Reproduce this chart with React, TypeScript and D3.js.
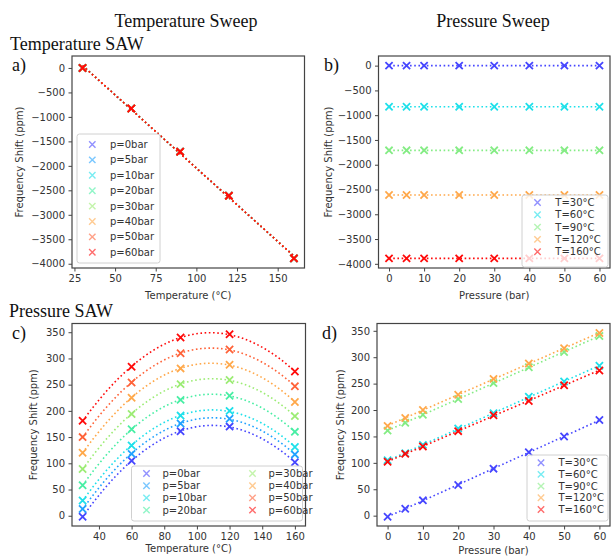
import React, {useEffect, useRef} from 'react';
import * as d3 from 'd3';

const temperatures = [30, 60, 90, 120, 160];
const pressures = [0, 5, 10, 20, 30, 40, 50, 60];

const pressureNames = ["p=0bar", "p=5bar", "p=10bar", "p=20bar", "p=30bar", "p=40bar", "p=50bar", "p=60bar"];
const tempNames = ["T=30°C", "T=60°C", "T=90°C", "T=120°C", "T=160°C"];

const pressureColors = ["#4646ff", "#22a2ff", "#1ee0ea", "#48eea4", "#9cec74", "#ffa84a", "#ff6238", "#ff0a0a"];
const tempColors = ["#4646ff", "#1ee0ea", "#84ec84", "#ffa84a", "#ff0a0a"];

// temperature sweep (ppm), same for every pressure
const tempSweepShift = [0, -830, -1710, -2610, -3890];

// pressure sweep (ppm) vs pressure, one array per temperature
const shiftT30 = [-2, 13, 29, 58, 89, 120, 150, 181];
const shiftT60 = [105, 118, 134, 165, 194, 225, 254, 284];
const shiftT90 = [161, 176, 191, 221, 251, 281, 310, 340];
const shiftT120 = [170, 185, 200, 229, 259, 288, 317, 346];
const shiftT160 = [102, 117, 131, 160, 190, 217, 247, 275];
const pressureSweep = [shiftT30, shiftT60, shiftT90, shiftT120, shiftT160];

const tempTicksA = [25, 50, 75, 100, 125, 150];
const tempTicksC = [40, 60, 80, 100, 120, 140, 160];
const pressureTicks = [0, 10, 20, 30, 40, 50, 60];
const bigShiftTicks = [0, -500, -1000, -1500, -2000, -2500, -3000, -3500, -4000];
const smallShiftTicks = [0, 50, 100, 150, 200, 250, 300, 350];

const width = 611;
const height = 556;
const tickFont = "DejaVu Sans";
const textColor = "#333";

// least squares polynomial fit, returns coefficients c0 + c1 x + c2 x^2 ...
function polyfit(xs, ys, deg) {
    const n = deg + 1;
    const A = [];
    const b = [];
    for (let i = 0; i < n; i++) { A.push(new Array(n).fill(0)); b.push(0); }
    xs.forEach((x, k) => {
        for (let i = 0; i < n; i++) {
            for (let j = 0; j < n; j++) A[i][j] += Math.pow(x, i + j);
            b[i] += ys[k] * Math.pow(x, i);
        }
    });
    for (let i = 0; i < n; i++) {
        for (let r = i + 1; r < n; r++) {
            const f = A[r][i] / A[i][i];
            for (let c = i; c < n; c++) A[r][c] -= f * A[i][c];
            b[r] -= f * b[i];
        }
    }
    const coef = new Array(n).fill(0);
    for (let i = n - 1; i >= 0; i--) {
        let s = b[i];
        for (let c = i + 1; c < n; c++) s -= A[i][c] * coef[c];
        coef[i] = s / A[i][i];
    }
    return coef;
}

function fitCurve(xs, ys, deg) {
    const coef = polyfit(xs, ys, deg);
    const lo = d3.min(xs), hi = d3.max(xs);
    return d3.range(0, 61).map(k => {
        const x = lo + (hi - lo) * k / 60;
        return [x, coef.reduce((s, c, i) => s + c * Math.pow(x, i), 0)];
    });
}

function padded(ext) {
    const m = (ext[1] - ext[0]) * 0.05;
    return [ext[0] - m, ext[1] + m];
}

function crossPath(r) {
    return `M${-r},${-r}L${r},${r}M${-r},${r}L${r},${-r}`;
}

function drawPanel(svg, cfg) {
    const g = svg.append("g");
    const fits = cfg.series.map(s => fitCurve(s.xs, s.ys, s.deg));

    const xScale = d3.scaleLinear()
        .domain(padded(d3.extent(cfg.series.flatMap(s => s.xs))))
        .range([cfg.x0, cfg.x1]);
    const allY = cfg.series.flatMap(s => s.ys).concat(fits.flatMap(f => f.map(p => p[1])));
    const yScale = d3.scaleLinear()
        .domain(padded(d3.extent(allY)))
        .range([cfg.y1, cfg.y0]);

    const line = d3.line()
        .x(d => xScale(d[0]))
        .y(d => yScale(d[1]));

    // series: markers then fitted dotted line
    cfg.series.forEach((s, i) => {
        g.selectAll(null)
            .data(s.xs)
            .enter()
            .append("path")
            .attr("d", crossPath(3.6))
            .attr("transform", (d, k) => "translate(" + xScale(d) + "," + yScale(s.ys[k]) + ")")
            .attr("stroke", s.color)
            .attr("stroke-width", 1.8)
            .attr("fill", "none");
        g.append("path")
            .attr("d", line(fits[i]))
            .attr("fill", "none")
            .attr("stroke", s.color)
            .attr("stroke-width", 1.6)
            .attr("stroke-dasharray", "1.6 2.6");
    });

    // axes
    const fmt = d3.format("d");
    const xAxis = d3.axisBottom(xScale).tickValues(cfg.xTicks).tickFormat(fmt).tickSize(3.5).tickPadding(3.5);
    const yAxis = d3.axisLeft(yScale).tickValues(cfg.yTicks).tickFormat(fmt).tickSize(3.5).tickPadding(3.5);
    const gx = g.append("g").attr("transform", "translate(0," + cfg.y1 + ")").call(xAxis);
    const gy = g.append("g").attr("transform", "translate(" + cfg.x0 + ",0)").call(yAxis);
    [gx, gy].forEach(a => {
        a.select(".domain").remove();
        a.attr("font-family", tickFont).attr("font-size", 10);
        a.selectAll("line").attr("stroke", "#444").attr("stroke-width", 1);
        a.selectAll("text").attr("fill", textColor);
    });

    g.append("rect")
        .attr("x", cfg.x0).attr("y", cfg.y0)
        .attr("width", cfg.x1 - cfg.x0).attr("height", cfg.y1 - cfg.y0)
        .attr("fill", "none").attr("stroke", "#444").attr("stroke-width", 1.2);

    g.append("text")
        .attr("x", (cfg.x0 + cfg.x1) / 2).attr("y", cfg.xLabelY)
        .attr("text-anchor", "middle").attr("dominant-baseline", "central")
        .attr("font-family", tickFont).attr("font-size", 10).attr("fill", textColor)
        .text(cfg.xLabel);
    g.append("text")
        .attr("transform", "translate(" + cfg.yLabelX + "," + (cfg.y0 + cfg.y1) / 2 + ") rotate(-90)")
        .attr("text-anchor", "middle").attr("dominant-baseline", "central")
        .attr("font-family", tickFont).attr("font-size", 10).attr("fill", textColor)
        .text("Frequency Shift (ppm)");

    // legend
    const L = cfg.legend;
    const lg = g.append("g");
    lg.append("rect")
        .attr("x", L.x).attr("y", L.y).attr("width", L.w).attr("height", L.h)
        .attr("rx", 2.5)
        .attr("fill", "white").attr("fill-opacity", 0.8)
        .attr("stroke", "#d0d0d0").attr("stroke-width", 1);
    cfg.series.forEach((s, i) => {
        const col = Math.floor(i / L.rows);
        const row = i % L.rows;
        const cy = L.firstRow + row * L.rowH;
        const cx = L.x + L.colOffsets[col];
        lg.append("path")
            .attr("d", crossPath(3.2))
            .attr("transform", "translate(" + (cx + L.markerDx) + "," + cy + ")")
            .attr("stroke", s.color).attr("stroke-width", 1.4).attr("stroke-opacity", 0.6)
            .attr("fill", "none");
        lg.append("text")
            .attr("x", cx + L.textDx).attr("y", cy)
            .attr("dominant-baseline", "central")
            .attr("font-family", tickFont).attr("font-size", 10).attr("fill", textColor)
            .text(s.name);
    });
}

function App() {
    const svgRef = useRef();

    useEffect(() => {
        const svg = d3.select(svgRef.current);
        svg.selectAll("*").remove();

        const serif = (txt, x, y, anchor) => svg.append("text")
            .attr("x", x).attr("y", y)
            .attr("text-anchor", anchor)
            .attr("font-family", "Liberation Serif").attr("font-size", 18)
            .attr("fill", "#111")
            .text(txt);

        serif("Temperature Sweep", 186, 27, "middle");
        serif("Pressure Sweep", 493, 27, "middle");
        serif("Temperature SAW", 10, 50, "start");
        serif("Pressure SAW", 9, 317, "start");
        serif("a)", 12, 71, "start");
        serif("b)", 324, 71, "start");
        serif("c)", 12, 339, "start");
        serif("d)", 322, 339, "start");

        // a) temperature sweep, one series per pressure
        drawPanel(svg, {
            series: pressures.map((p, i) => ({
                name: pressureNames[i], color: pressureColors[i],
                xs: temperatures, ys: tempSweepShift, deg: 1
            })),
            x0: 72, x1: 304.5, y0: 56, y1: 268,
            xTicks: tempTicksA, yTicks: bigShiftTicks,
            xLabel: "Temperature (°C)", xLabelY: 295, yLabelX: 19,
            legend: {x: 77, y: 134, w: 83, h: 129, rows: 8, rowH: 15.4, firstRow: 144.5,
                     colOffsets: [0], markerDx: 15.3, textDx: 33}
        });

        // b) pressure sweep, one series per temperature
        drawPanel(svg, {
            series: temperatures.map((t, i) => ({
                name: tempNames[i], color: tempColors[i],
                xs: pressures, ys: pressures.map(() => tempSweepShift[i]), deg: 1
            })),
            x0: 378.5, x1: 610, y0: 56, y1: 268,
            xTicks: pressureTicks, yTicks: bigShiftTicks,
            xLabel: "Pressure (bar)", xLabelY: 295, yLabelX: 328,
            legend: {x: 522, y: 195, w: 86, h: 72, rows: 5, rowH: 12.3, firstRow: 202.5,
                     colOffsets: [0], markerDx: 15.5, textDx: 33.3}
        });

        // c) pressure SAW vs temperature
        drawPanel(svg, {
            series: pressures.map((p, i) => ({
                name: pressureNames[i], color: pressureColors[i],
                xs: temperatures, ys: pressureSweep.map(row => row[i]), deg: 2
            })),
            x0: 72, x1: 305.5, y0: 323.5, y1: 526,
            xTicks: tempTicksC, yTicks: smallShiftTicks,
            xLabel: "Temperature (°C)", xLabelY: 548, yLabelX: 33,
            legend: {x: 131.5, y: 466, w: 171, h: 55, rows: 4, rowH: 12.2, firstRow: 473.5,
                     colOffsets: [0, 106], markerDx: 15, textDx: 31}
        });

        // d) pressure SAW vs pressure
        drawPanel(svg, {
            series: temperatures.map((t, i) => ({
                name: tempNames[i], color: tempColors[i],
                xs: pressures, ys: pressureSweep[i], deg: 1
            })),
            x0: 377, x1: 610, y0: 323.5, y1: 526,
            xTicks: pressureTicks, yTicks: smallShiftTicks,
            xLabel: "Pressure (bar)", xLabelY: 550, yLabelX: 340.5,
            legend: {x: 527, y: 455, w: 81, h: 66, rows: 5, rowH: 11.7, firstRow: 462.7,
                     colOffsets: [0], markerDx: 14, textDx: 31.5}
        });
    }, []);

    return (
        <svg ref={svgRef} width={width} height={height}
             style={{position: "absolute", left: 0, top: 0, background: "white"}}>
        </svg>
    );
}

export default App;
